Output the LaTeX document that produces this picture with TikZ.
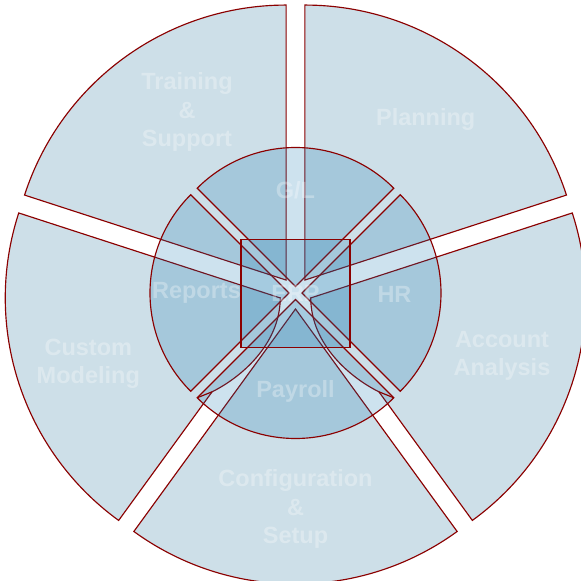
\documentclass[tikz,border=0pt]{standalone}
\usepackage{fontspec}
\setmainfont{Liberation Sans}
\begin{document}
\begin{tikzpicture}[x=1pt,y=1pt]
\definecolor{edge}{RGB}{139,0,0}
\definecolor{outerfill}{RGB}{205,223,232}
\definecolor{innerfill}{RGB}{5,110,170}
\tikzset{
  outerwedge/.style={draw=edge, line width=1.15pt, fill=outerfill},
  innerwedge/.style={draw=edge, line width=1.15pt, fill=innerfill, fill opacity=0.2},
  thinline/.style={draw=edge, line width=1.15pt},
  lbl/.style={text=white, text opacity=0.3, font=\fontsize{23.5}{28.5}\selectfont\bfseries, align=center, inner sep=0pt},
}
\useasboundingbox (-295.5,-288) rectangle (285.5,293);

% ---- outer ring (5 exploded wedges) ----
\draw[outerwedge, shift={(126:16)}] (0,0) -- (90:275) arc[start angle=90, end angle=162, radius=275] -- cycle;
\draw[outerwedge, shift={(54:16)}] (0,0) -- (18:275) arc[start angle=18, end angle=90, radius=275] -- cycle;
\draw[outerwedge, shift={(342:16)}] (0,0) -- (18:275) arc[start angle=18, end angle=-54, radius=275] -- (-54:116) .. controls (40.3,-80.1) and (0.3,-47.1) .. (0,0) -- cycle;
\draw[outerwedge, shift={(270:16)}] (0,0) -- (234:275) arc[start angle=234, end angle=306, radius=275] -- cycle;
\draw[outerwedge, shift={(198:16)}] (0,0) -- (162:275) arc[start angle=162, end angle=234, radius=275] -- (234:116) .. controls (-40.3,-80.1) and (-0.3,-47.1) .. (0,0) -- cycle;

% ---- inner ring (4 exploded wedges) ----
\draw[innerwedge, shift={(90:6.5)}] (0,0) -- (45:139) arc[start angle=45, end angle=135, radius=139] -- cycle;
\draw[innerwedge, shift={(180:6.5)}] (0,0) -- (135:139) arc[start angle=135, end angle=225, radius=139] -- cycle;
\draw[innerwedge, shift={(270:6.5)}] (0,0) -- (225:139) arc[start angle=225, end angle=315, radius=139] -- cycle;
\draw[innerwedge, shift={(0:6.5)}] (0,0) -- (-45:139) arc[start angle=-45, end angle=45, radius=139] -- cycle;

% small joins near the Payroll corners
\coordinate (pl) at (-83.4,-98.8);
\coordinate (plc) at (-98.3,-104.8);
\coordinate (pr) at (83.4,-98.8);
\coordinate (prc) at (98.3,-104.8);
\draw[thinline] (pl) -- (plc);
\draw[thinline] (pr) -- (prc);

% ---- centre square ----
\draw[innerwedge] (-54.5,-54.3) rectangle (54.5,53.7);

% ---- labels ----
\node[lbl] (training) at (-108.5,181) {Training\\\&\\Support};
\node[lbl] (planning) at (130.2,174) {Planning};
\node[lbl] (account) at (206.5,-63) {Account\\Analysis};
\node[lbl] (config) at (0,-216) {Configuration\\\&\\Setup};
\node[lbl] (custom) at (-207.2,-71) {Custom\\Modeling};
\node[lbl] (gl) at (0,103) {G/L};
\node[lbl] (hr) at (99,-1) {HR};
\node[lbl] (payroll) at (0,-98.7) {Payroll};
\node[lbl] (reports) at (-99,0) {Reports};
\node[lbl] (erp) at (0,0) {ERP};
\end{tikzpicture}
\end{document}
